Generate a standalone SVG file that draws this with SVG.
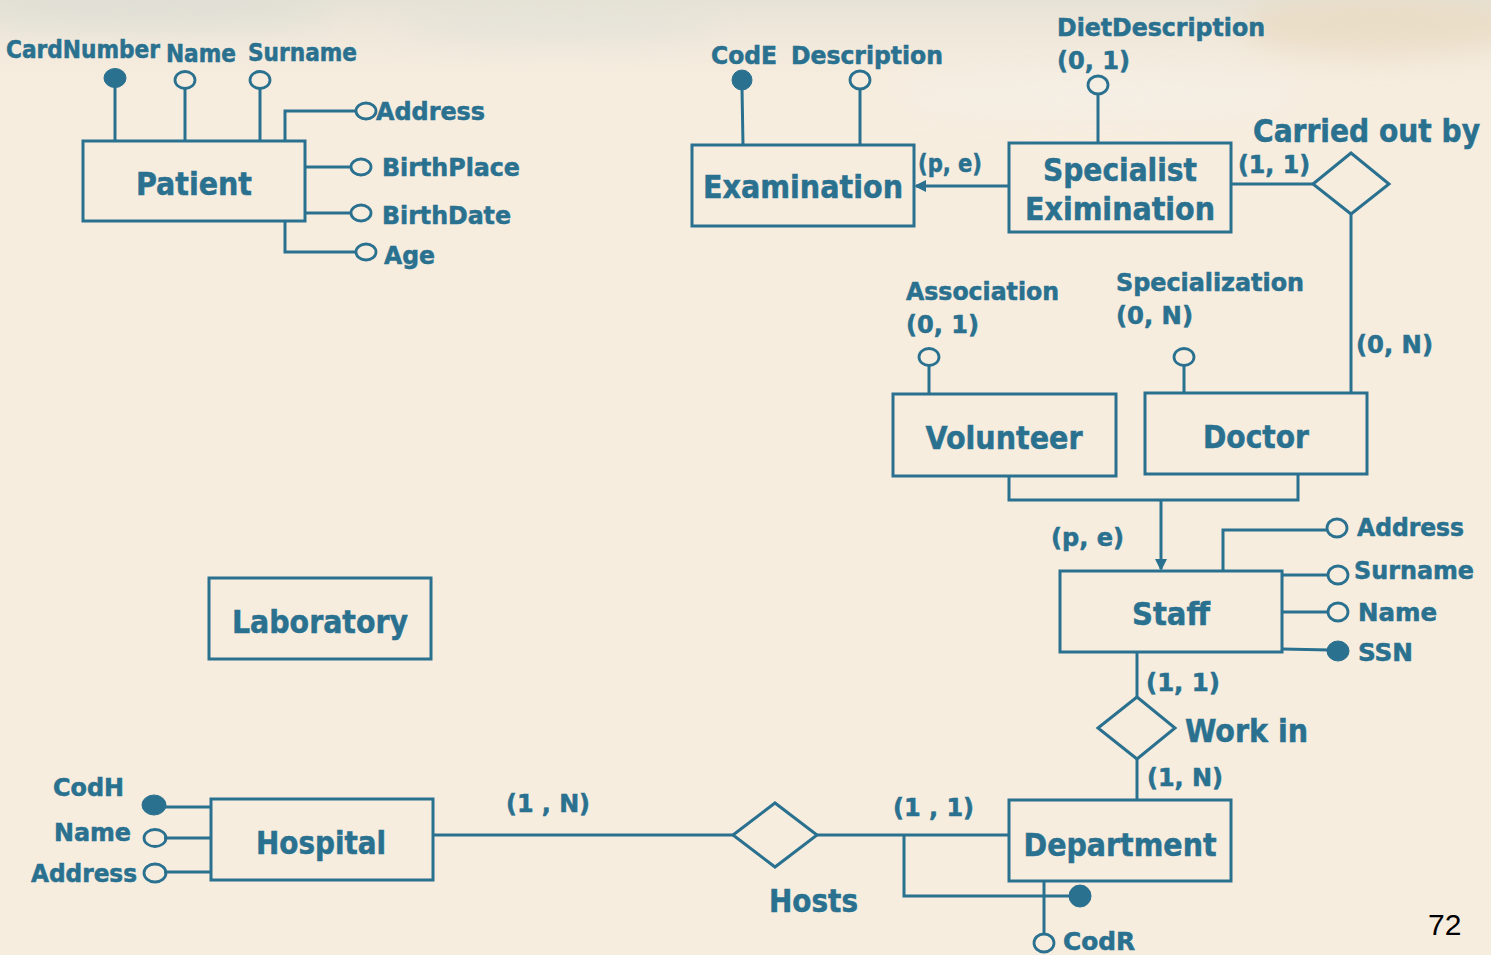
<svg xmlns="http://www.w3.org/2000/svg" width="1491" height="955" viewBox="0 0 1491 955">
<defs>
<style>
.bg{fill:#f7eddf}
.ent{fill:none;stroke:#2a7190;stroke-width:3}
.ln{fill:none;stroke:#2a7190;stroke-width:3}
.rel{fill:none;stroke:#2a7190;stroke-width:3}
.oc{fill:none;stroke:#2a7190;stroke-width:2.8}
.fc{fill:#2a7190;stroke:#2a7190;stroke-width:1}
text{font-family:"DejaVu Sans Condensed","DejaVu Sans",sans-serif;font-weight:bold;fill:#2a7190;stroke:#2a7190;stroke-width:0.5}
.big{font-size:32px}
.sm{font-size:24px}
.pg{font-family:"Liberation Sans",Arial,sans-serif;font-weight:normal;fill:#000;stroke:none;font-size:30px}
</style>
<marker id="arr" markerWidth="12" markerHeight="12" refX="10" refY="6" orient="auto" markerUnits="userSpaceOnUse">
<path d="M0,0 L12,6 L0,12 Z" fill="#2a7190"/>
</marker>
<filter id="blur" x="-20%" y="-50%" width="140%" height="200%"><feGaussianBlur stdDeviation="14"/></filter>
<linearGradient id="topg" x1="0" y1="0" x2="0" y2="1">
<stop offset="0" stop-color="#e6e2d6"/>
<stop offset="1" stop-color="#f7eddf" stop-opacity="0"/>
</linearGradient>
</defs>
<rect class="bg" x="0" y="0" width="1491" height="955"/>
<rect x="0" y="0" width="1491" height="110" fill="url(#topg)"/>
<g filter="url(#blur)" opacity="0.55">
<ellipse cx="150" cy="10" rx="180" ry="18" fill="#d9dcd4"/>
<ellipse cx="560" cy="25" rx="160" ry="14" fill="#dfe0d8"/>
<ellipse cx="1380" cy="25" rx="140" ry="30" fill="#e8d5b8"/>
<ellipse cx="1100" cy="95" rx="200" ry="20" fill="#f2f0ea"/>
</g>

<g id="connectors">
<line class="ln" x1="115" y1="86" x2="115" y2="141"/>
<line class="ln" x1="185" y1="88" x2="185" y2="141"/>
<line class="ln" x1="260" y1="88" x2="260" y2="141"/>
<polyline class="ln" points="285,141 285,111 356,111"/>
<line class="ln" x1="305" y1="167" x2="351" y2="167"/>
<line class="ln" x1="305" y1="213" x2="351" y2="213"/>
<polyline class="ln" points="285,221 285,252 356,252"/>
<line class="ln" x1="742" y1="88" x2="743" y2="145"/>
<line class="ln" x1="860" y1="89" x2="860" y2="145"/>
<line class="ln" x1="1098" y1="94" x2="1098" y2="143"/>
<line class="ln" x1="1009" y1="186" x2="916" y2="186" marker-end="url(#arr)"/>
<line class="ln" x1="1231" y1="184" x2="1313" y2="184"/>
<line class="ln" x1="1351" y1="214" x2="1351" y2="393"/>
<line class="ln" x1="929" y1="366" x2="929" y2="394"/>
<line class="ln" x1="1184" y1="366" x2="1184" y2="393"/>
<polyline class="ln" points="1009,476 1009,500 1298,500 1298,474"/>
<line class="ln" x1="1161" y1="500" x2="1161" y2="569" marker-end="url(#arr)"/>
<polyline class="ln" points="1223,571 1223,530 1327,530"/>
<line class="ln" x1="1282" y1="575" x2="1328" y2="575"/>
<line class="ln" x1="1282" y1="612" x2="1328" y2="612"/>
<line class="ln" x1="1282" y1="649" x2="1330" y2="650"/>
<line class="ln" x1="1137" y1="652" x2="1137" y2="697"/>
<line class="ln" x1="1137" y1="759" x2="1137" y2="800"/>
<line class="ln" x1="433" y1="835" x2="733" y2="835"/>
<line class="ln" x1="817" y1="835" x2="1009" y2="835"/>
<polyline class="ln" points="904,835 904,896 1070,896"/>
<line class="ln" x1="1044" y1="881" x2="1044" y2="934"/>
<line class="ln" x1="162" y1="807" x2="211" y2="807"/>
<line class="ln" x1="164" y1="838" x2="211" y2="838"/>
<line class="ln" x1="164" y1="872" x2="211" y2="872"/>
</g>

<g id="patient">
<rect class="ent" x="83" y="141" width="222" height="80"/>
<text class="big" x="194" y="195" text-anchor="middle" textLength="116" lengthAdjust="spacingAndGlyphs">Patient</text>
<ellipse class="fc" cx="115" cy="78" rx="11" ry="9.5"/>
<ellipse class="oc" cx="185" cy="80" rx="10" ry="8.5"/>
<ellipse class="oc" cx="260" cy="80" rx="10" ry="8.5"/>
<ellipse class="oc" cx="366" cy="111" rx="10" ry="8"/>
<ellipse class="oc" cx="361" cy="167" rx="10" ry="8"/>
<ellipse class="oc" cx="361" cy="213" rx="10" ry="8"/>
<ellipse class="oc" cx="366" cy="252" rx="10" ry="8"/>
<text class="sm" x="6" y="58" textLength="154" lengthAdjust="spacingAndGlyphs">CardNumber</text>
<text class="sm" x="166" y="62" textLength="70" lengthAdjust="spacingAndGlyphs">Name</text>
<text class="sm" x="248" y="61" textLength="109" lengthAdjust="spacingAndGlyphs">Surname</text>
<text class="sm" x="376" y="120" textLength="109" lengthAdjust="spacingAndGlyphs">Address</text>
<text class="sm" x="382" y="176" textLength="138" lengthAdjust="spacingAndGlyphs">BirthPlace</text>
<text class="sm" x="382" y="224" textLength="129" lengthAdjust="spacingAndGlyphs">BirthDate</text>
<text class="sm" x="384" y="264" textLength="51" lengthAdjust="spacingAndGlyphs">Age</text>
</g>

<g id="examination">
<rect class="ent" x="692" y="145" width="222" height="81"/>
<text class="big" x="803" y="198" text-anchor="middle" textLength="200" lengthAdjust="spacingAndGlyphs">Examination</text>
<ellipse class="fc" cx="742" cy="80" rx="10" ry="10"/>
<ellipse class="oc" cx="860" cy="80" rx="10" ry="9"/>
<text class="sm" x="711" y="64" textLength="66" lengthAdjust="spacingAndGlyphs">CodE</text>
<text class="sm" x="791" y="64" textLength="152" lengthAdjust="spacingAndGlyphs">Description</text>
<text class="sm" x="918" y="172" textLength="64" lengthAdjust="spacingAndGlyphs">(p, e)</text>
</g>

<g id="specialist">
<rect class="ent" x="1009" y="143" width="222" height="89"/>
<text class="big" x="1120" y="181" text-anchor="middle" textLength="154" lengthAdjust="spacingAndGlyphs">Specialist</text>
<text class="big" x="1120" y="220" text-anchor="middle" textLength="190" lengthAdjust="spacingAndGlyphs">Eximination</text>
<ellipse class="oc" cx="1098" cy="85" rx="10" ry="9"/>
<text class="sm" x="1057" y="36" textLength="208" lengthAdjust="spacingAndGlyphs">DietDescription</text>
<text class="sm" x="1057" y="69" textLength="73" lengthAdjust="spacingAndGlyphs">(0, 1)</text>
</g>

<g id="carried-out-by">
<polygon class="rel" points="1313,184 1351,153 1389,184 1351,214"/>
<text class="big" x="1253" y="142" textLength="227" lengthAdjust="spacingAndGlyphs">Carried out by</text>
<text class="sm" x="1238" y="173" textLength="72" lengthAdjust="spacingAndGlyphs">(1, 1)</text>
<text class="sm" x="1356" y="353" textLength="77" lengthAdjust="spacingAndGlyphs">(0, N)</text>
</g>

<g id="volunteer">
<rect class="ent" x="893" y="394" width="223" height="82"/>
<text class="big" x="1004" y="449" text-anchor="middle" textLength="157" lengthAdjust="spacingAndGlyphs">Volunteer</text>
<ellipse class="oc" cx="929" cy="357" rx="10" ry="8.5"/>
<text class="sm" x="906" y="300" textLength="153" lengthAdjust="spacingAndGlyphs">Association</text>
<text class="sm" x="906" y="333" textLength="73" lengthAdjust="spacingAndGlyphs">(0, 1)</text>
</g>

<g id="doctor">
<rect class="ent" x="1145" y="393" width="222" height="81"/>
<text class="big" x="1256" y="448" text-anchor="middle" textLength="106" lengthAdjust="spacingAndGlyphs">Doctor</text>
<ellipse class="oc" cx="1184" cy="357" rx="10" ry="8.5"/>
<text class="sm" x="1116" y="291" textLength="188" lengthAdjust="spacingAndGlyphs">Specialization</text>
<text class="sm" x="1116" y="324" textLength="77" lengthAdjust="spacingAndGlyphs">(0, N)</text>
</g>

<g id="staff">
<rect class="ent" x="1060" y="571" width="222" height="81"/>
<text class="big" x="1171" y="625" text-anchor="middle" textLength="78" lengthAdjust="spacingAndGlyphs">Staff</text>
<text class="sm" x="1051" y="546" textLength="73" lengthAdjust="spacingAndGlyphs">(p, e)</text>
<ellipse class="oc" cx="1337" cy="528" rx="10" ry="9"/>
<ellipse class="oc" cx="1338" cy="575" rx="10" ry="9"/>
<ellipse class="oc" cx="1338" cy="612" rx="10" ry="9"/>
<ellipse class="fc" cx="1338" cy="651" rx="11" ry="10"/>
<text class="sm" x="1357" y="536" textLength="107" lengthAdjust="spacingAndGlyphs">Address</text>
<text class="sm" x="1354" y="579" textLength="120" lengthAdjust="spacingAndGlyphs">Surname</text>
<text class="sm" x="1358" y="621" textLength="79" lengthAdjust="spacingAndGlyphs">Name</text>
<text class="sm" x="1358" y="661" textLength="55" lengthAdjust="spacingAndGlyphs">SSN</text>
</g>

<g id="work-in">
<polygon class="rel" points="1098,728 1137,697 1175,728 1137,759"/>
<text class="big" x="1185" y="742" textLength="123" lengthAdjust="spacingAndGlyphs">Work in</text>
<text class="sm" x="1146" y="691" textLength="74" lengthAdjust="spacingAndGlyphs">(1, 1)</text>
<text class="sm" x="1147" y="786" textLength="76" lengthAdjust="spacingAndGlyphs">(1, N)</text>
</g>

<g id="laboratory">
<rect class="ent" x="209" y="578" width="222" height="81"/>
<text class="big" x="320" y="633" text-anchor="middle" textLength="176" lengthAdjust="spacingAndGlyphs">Laboratory</text>
</g>

<g id="hospital">
<rect class="ent" x="211" y="799" width="222" height="81"/>
<text class="big" x="321" y="854" text-anchor="middle" textLength="130" lengthAdjust="spacingAndGlyphs">Hospital</text>
<ellipse class="fc" cx="154" cy="805" rx="12" ry="10"/>
<ellipse class="oc" cx="155" cy="838" rx="11" ry="8.5"/>
<ellipse class="oc" cx="155" cy="873" rx="11" ry="9"/>
<text class="sm" x="53" y="796" textLength="71" lengthAdjust="spacingAndGlyphs">CodH</text>
<text class="sm" x="54" y="841" textLength="77" lengthAdjust="spacingAndGlyphs">Name</text>
<text class="sm" x="31" y="882" textLength="106" lengthAdjust="spacingAndGlyphs">Address</text>
</g>

<g id="hosts">
<polygon class="rel" points="733,835 775,803 817,835 775,867"/>
<text class="big" x="769" y="912" textLength="89" lengthAdjust="spacingAndGlyphs">Hosts</text>
<text class="sm" x="506" y="812" textLength="84" lengthAdjust="spacingAndGlyphs">(1 , N)</text>
<text class="sm" x="893" y="816" textLength="81" lengthAdjust="spacingAndGlyphs">(1 , 1)</text>
</g>

<g id="department">
<rect class="ent" x="1009" y="800" width="222" height="81"/>
<text class="big" x="1120" y="856" text-anchor="middle" textLength="193" lengthAdjust="spacingAndGlyphs">Department</text>
<ellipse class="fc" cx="1080" cy="896" rx="11" ry="11"/>
<ellipse class="oc" cx="1044" cy="943" rx="10" ry="9"/>
<text class="sm" x="1063" y="950" textLength="72" lengthAdjust="spacingAndGlyphs">CodR</text>
</g>

<text class="pg" x="1428" y="935">72</text>
</svg>
